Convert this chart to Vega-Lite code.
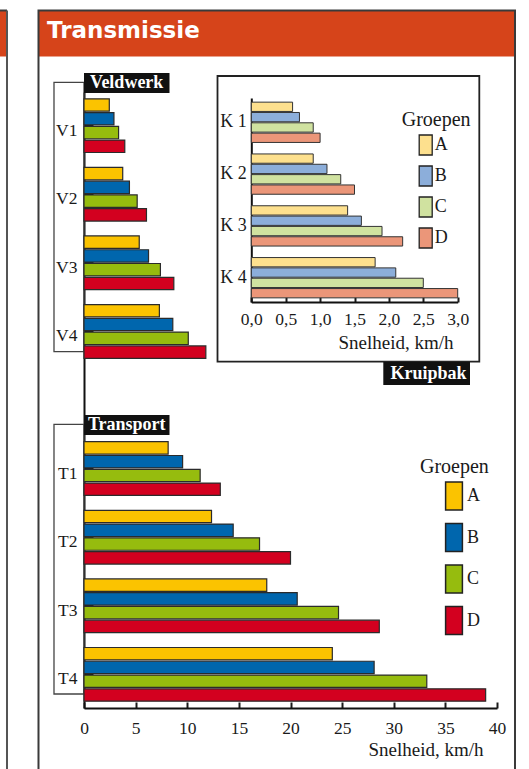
{
  "$schema": "https://vega.github.io/schema/vega-lite/v6.json",
  "width": 477,
  "height": 759,
  "autosize": "none",
  "padding": {"left": 38, "top": 10, "right": 14, "bottom": 0},
  "background": "white",
  "config": {"view": {"stroke": null}, "font": "Liberation Serif"},
  "datasets": {
    "main": [
      {"row": "V1", "group": "A", "speed": 2.45}, {"row": "V1", "group": "B", "speed": 2.9}, {"row": "V1", "group": "C", "speed": 3.35}, {"row": "V1", "group": "D", "speed": 3.95},
      {"row": "V2", "group": "A", "speed": 3.75}, {"row": "V2", "group": "B", "speed": 4.4}, {"row": "V2", "group": "C", "speed": 5.15}, {"row": "V2", "group": "D", "speed": 6.05},
      {"row": "V3", "group": "A", "speed": 5.35}, {"row": "V3", "group": "B", "speed": 6.25}, {"row": "V3", "group": "C", "speed": 7.4}, {"row": "V3", "group": "D", "speed": 8.7},
      {"row": "V4", "group": "A", "speed": 7.3}, {"row": "V4", "group": "B", "speed": 8.6}, {"row": "V4", "group": "C", "speed": 10.1}, {"row": "V4", "group": "D", "speed": 11.8},
      {"row": "T1", "group": "A", "speed": 8.15}, {"row": "T1", "group": "B", "speed": 9.55}, {"row": "T1", "group": "C", "speed": 11.25}, {"row": "T1", "group": "D", "speed": 13.2},
      {"row": "T2", "group": "A", "speed": 12.35}, {"row": "T2", "group": "B", "speed": 14.45}, {"row": "T2", "group": "C", "speed": 17.0}, {"row": "T2", "group": "D", "speed": 20.0},
      {"row": "T3", "group": "A", "speed": 17.7}, {"row": "T3", "group": "B", "speed": 20.65}, {"row": "T3", "group": "C", "speed": 24.65}, {"row": "T3", "group": "D", "speed": 28.6},
      {"row": "T4", "group": "A", "speed": 24.05}, {"row": "T4", "group": "B", "speed": 28.1}, {"row": "T4", "group": "C", "speed": 33.2}, {"row": "T4", "group": "D", "speed": 38.9}
    ],
    "kruip": [
      {"row": "K 1", "group": "A", "speed": 0.6}, {"row": "K 1", "group": "B", "speed": 0.7}, {"row": "K 1", "group": "C", "speed": 0.9}, {"row": "K 1", "group": "D", "speed": 1.0},
      {"row": "K 2", "group": "A", "speed": 0.9}, {"row": "K 2", "group": "B", "speed": 1.1}, {"row": "K 2", "group": "C", "speed": 1.3}, {"row": "K 2", "group": "D", "speed": 1.5},
      {"row": "K 3", "group": "A", "speed": 1.4}, {"row": "K 3", "group": "B", "speed": 1.6}, {"row": "K 3", "group": "C", "speed": 1.9}, {"row": "K 3", "group": "D", "speed": 2.2},
      {"row": "K 4", "group": "A", "speed": 1.8}, {"row": "K 4", "group": "B", "speed": 2.1}, {"row": "K 4", "group": "C", "speed": 2.5}, {"row": "K 4", "group": "D", "speed": 3.0}
    ]
  },
  "layer": [
    {
      "data": {"values": [{}]},
      "layer": [
        {
          "mark": {"type": "rect", "color": "#D6441A"},
          "encoding": {
            "x": {"datum": -4.407, "type": "quantitative", "scale": {"domain": [0, 40], "range": [46, 459], "nice": false, "zero": false}, "axis": null},
            "x2": {"datum": 41.743},
            "y": {"datum": -1.2881, "type": "quantitative", "scale": {"domain": [0, 1], "range": [88.8, 157.35], "nice": false, "zero": false}, "axis": null},
            "y2": {"datum": -0.6171}
          }
        },
        {
          "mark": {"type": "rect", "color": "#D6441A"},
          "encoding": {
            "x": {"datum": -8.2, "type": "quantitative"}, "x2": {"datum": -7.506},
            "y": {"datum": -1.2881, "type": "quantitative"}, "y2": {"datum": -0.6171}
          }
        },
        {
          "mark": {"type": "rule", "color": "#3a3a3a", "strokeWidth": 2},
          "encoding": {
            "x": {"datum": -8.2, "type": "quantitative"}, "x2": {"datum": -7.458},
            "y": {"datum": -1.2881, "type": "quantitative"}
          }
        },
        {
          "mark": {"type": "rule", "color": "#555555", "strokeWidth": 2},
          "encoding": {
            "x": {"datum": -7.458, "type": "quantitative"},
            "y": {"datum": -1.2881, "type": "quantitative"}, "y2": {"datum": 10.228}
          }
        },
        {
          "mark": {"type": "rect", "fillOpacity": 0, "stroke": "#3a3a3a", "strokeWidth": 2},
          "encoding": {
            "x": {"datum": -4.407, "type": "quantitative"}, "x2": {"datum": 41.743},
            "y": {"datum": -1.2881, "type": "quantitative"}, "y2": {"datum": 10.228}
          }
        },
        {
          "mark": {"type": "text", "text": "Transmissie", "align": "left", "baseline": "alphabetic", "font": "DejaVu Sans", "fontWeight": "bold", "fontSize": 23, "color": "white"},
          "encoding": {
            "x": {"datum": -3.584, "type": "quantitative"},
            "y": {"datum": -0.8869, "type": "quantitative"}
          }
        },
        {
          "mark": {"type": "rect", "fillOpacity": 0, "stroke": "#444444", "strokeWidth": 1.3},
          "encoding": {
            "x": {"datum": -2.906, "type": "quantitative"}, "x2": {"datum": 0},
            "y": {"datum": -0.2407, "type": "quantitative"}, "y2": {"datum": 3.6893}
          }
        },
        {
          "mark": {"type": "rect", "fillOpacity": 0, "stroke": "#444444", "strokeWidth": 1.3},
          "encoding": {
            "x": {"datum": -2.906, "type": "quantitative"}, "x2": {"datum": 0},
            "y": {"datum": 4.7484, "type": "quantitative"}, "y2": {"datum": 8.6827}
          }
        },
        {
          "mark": {"type": "rect", "color": "#111111"},
          "encoding": {
            "x": {"datum": 0, "type": "quantitative"}, "x2": {"datum": 8.281},
            "y": {"datum": -0.3764, "type": "quantitative"}, "y2": {"datum": -0.0846}
          }
        },
        {
          "mark": {"type": "rect", "color": "#111111"},
          "encoding": {
            "x": {"datum": 0, "type": "quantitative"}, "x2": {"datum": 8.281},
            "y": {"datum": 4.6127, "type": "quantitative"}, "y2": {"datum": 4.9044}
          }
        },
        {
          "mark": {"type": "text", "text": "Veldwerk", "align": "center", "baseline": "middle", "font": "Liberation Serif", "fontWeight": "bold", "fontSize": 18, "color": "white"},
          "encoding": {
            "x": {"datum": 4.136, "type": "quantitative"},
            "y": {"datum": -0.2305, "type": "quantitative"}
          }
        },
        {
          "mark": {"type": "text", "text": "Transport", "align": "center", "baseline": "middle", "font": "Liberation Serif", "fontWeight": "bold", "fontSize": 18, "color": "white"},
          "encoding": {
            "x": {"datum": 4.136, "type": "quantitative"},
            "y": {"datum": 4.7586, "type": "quantitative"}
          }
        },
        {
          "mark": {"type": "rect", "fillOpacity": 0, "stroke": "#222222", "strokeWidth": 1.8},
          "encoding": {
            "x": {"datum": 12.93, "type": "quantitative"}, "x2": {"datum": 38.286},
            "y": {"datum": -0.3326, "type": "quantitative"}, "y2": {"datum": 3.8352}
          }
        },
        {
          "mark": {"type": "rect", "color": "#111111"},
          "encoding": {
            "x": {"datum": 28.988, "type": "quantitative"}, "x2": {"datum": 37.385},
            "y": {"datum": 3.8396, "type": "quantitative"}, "y2": {"datum": 4.1751}
          }
        },
        {
          "mark": {"type": "text", "text": "Kruipbak", "align": "center", "baseline": "middle", "font": "Liberation Serif", "fontWeight": "bold", "fontSize": 18, "color": "white"},
          "encoding": {
            "x": {"datum": 33.366, "type": "quantitative"},
            "y": {"datum": 4.0073, "type": "quantitative"}
          }
        }
      ]
    },
    {
      "data": {"name": "main"},
      "mark": {"type": "bar", "stroke": "#2b2b2b", "strokeWidth": 1.2},
      "encoding": {
        "x": {
          "field": "speed", "type": "quantitative",
          "scale": {"domain": [0, 40], "range": [46, 459], "nice": false},
          "axis": {
            "orient": "bottom", "offset": -61, "values": [0, 5, 10, 15, 20, 25, 30, 35, 40], "format": "d",
            "grid": false, "tickSize": -6, "tickWidth": 2, "tickColor": "#1a1a1a",
            "domainColor": "#111111", "domainWidth": 2,
            "labelFont": "Liberation Serif", "labelFontSize": 17.5, "labelColor": "#1a1a1a", "labelPadding": 17,
            "labelFlush": false, "labelOverlap": false,
            "title": "Snelheid, km/h", "titleFont": "Liberation Serif", "titleFontSize": 19, "titleFontWeight": "normal", "titleColor": "#1a1a1a",
            "titleAlign": "right", "titleAnchor": "end", "titleX": 445, "titleY": 47, "titleBaseline": "alphabetic"
          }
        },
        "y": {
          "field": "row", "type": "nominal",
          "scale": {"domain": ["V1", "V2", "V3", "V4", " ", "T1", "T2", "T3", "T4"], "range": [82, 698], "paddingInner": 0.2166, "paddingOuter": 0.099},
          "axis": {
            "orient": "left", "offset": -46, "values": ["V1", "V2", "V3", "V4", "T1", "T2", "T3", "T4"],
            "tickSize": -9, "tickWidth": 1.5, "tickColor": "#1a1a1a",
            "domainColor": "#111111", "domainWidth": 2,
            "labelFont": "Liberation Serif", "labelFontSize": 17.5, "labelColor": "#1a1a1a", "labelPadding": 16, "labelOffset": 5,
            "title": null
          }
        },
        "yOffset": {"field": "group", "type": "nominal", "scale": {"domain": ["A", "B", "C", "D"], "paddingInner": 0.1, "paddingOuter": 0}},
        "color": {
          "field": "group", "type": "nominal",
          "scale": {"domain": ["A", "B", "C", "D"], "range": ["#FBC300", "#0066AD", "#96BC0E", "#D3001F"]},
          "legend": {
            "orient": "none", "legendX": 382, "legendY": 447,
            "title": "Groepen", "titleFont": "Liberation Serif", "titleFontSize": 20, "titleFontWeight": "normal", "titleColor": "#1a1a1a", "titlePadding": 4,
            "symbolType": "M-0.6,-1H0.6V1H-0.6Z", "symbolSize": 784, "symbolStrokeColor": "#222222", "symbolStrokeWidth": 1.5, "symbolOffset": 19, "symbolOpacity": 1,
            "labelFont": "Liberation Serif", "labelFontSize": 18, "labelColor": "#1a1a1a", "labelOffset": -2, "rowPadding": 7.5
          }
        }
      }
    },
    {
      "data": {"name": "kruip"},
      "mark": {"type": "bar", "stroke": "#333333", "strokeWidth": 1},
      "encoding": {
        "x": {
          "field": "speed", "type": "quantitative",
          "scale": {"domain": [0, 3], "range": [213.3, 419.7], "nice": false},
          "axis": {
            "orient": "bottom", "offset": -467, "values": [0, 0.5, 1, 1.5, 2, 2.5, 3],
            "labelExpr": "replace(format(datum.value, '.1f'), '.', ',')",
            "grid": false, "tickSize": -5, "tickWidth": 2, "tickColor": "#1a1a1a",
            "domainColor": "#111111", "domainWidth": 2,
            "labelFont": "Liberation Serif", "labelFontSize": 17.5, "labelColor": "#1a1a1a", "labelPadding": 13,
            "labelFlush": false, "labelOverlap": false,
            "title": "Snelheid, km/h", "titleFont": "Liberation Serif", "titleFontSize": 19, "titleFontWeight": "normal", "titleColor": "#1a1a1a",
            "titleAlign": "right", "titleAnchor": "end", "titleX": 415, "titleY": 46, "titleBaseline": "alphabetic"
          }
        },
        "y": {
          "field": "row", "type": "nominal",
          "scale": {"domain": ["K 1", "K 2", "K 3", "K 4"], "range": [88, 292], "paddingInner": 0.222, "paddingOuter": 0.08},
          "axis": {
            "orient": "left", "offset": -213.3, "ticks": false,
            "domainColor": "#111111", "domainWidth": 2,
            "labelFont": "Liberation Serif", "labelFontSize": 18, "labelColor": "#1a1a1a", "labelPadding": 5,
            "title": null
          }
        },
        "yOffset": {"field": "group", "type": "nominal", "scale": {"domain": ["A", "B", "C", "D"], "paddingInner": 0.1, "paddingOuter": 0}},
        "color": {
          "field": "group", "type": "nominal",
          "scale": {"domain": ["A", "B", "C", "D"], "range": ["#FDE08E", "#8CAEDA", "#D0E2A0", "#EB9679"]},
          "legend": {
            "orient": "none", "legendX": 363.7, "legendY": 100,
            "title": "Groepen", "titleFont": "Liberation Serif", "titleFontSize": 20, "titleFontWeight": "normal", "titleColor": "#1a1a1a", "titlePadding": 4,
            "symbolType": "M-0.65,-1H0.65V1H-0.65Z", "symbolSize": 400, "symbolStrokeColor": "#222222", "symbolStrokeWidth": 1.3, "symbolOffset": 13, "symbolOpacity": 1,
            "labelFont": "Liberation Serif", "labelFontSize": 18, "labelColor": "#1a1a1a", "labelOffset": -2, "rowPadding": 5
          }
        }
      }
    }
  ],
  "resolve": {
    "scale": {"x": "independent", "y": "independent", "color": "independent", "yOffset": "independent"},
    "axis": {"x": "independent", "y": "independent"},
    "legend": {"color": "independent"}
  }
}
